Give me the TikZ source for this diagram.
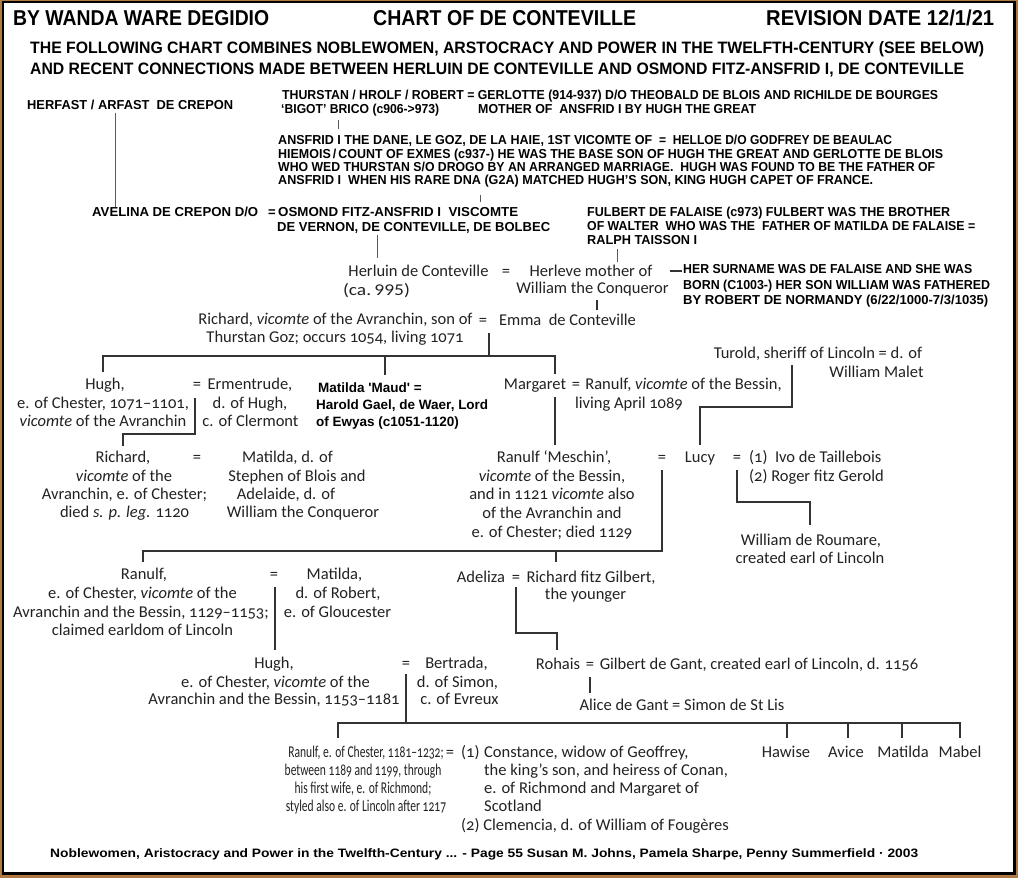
\documentclass[tikz,border=0pt]{standalone}
\usepackage{fontspec}
\usepackage{graphicx}
\setmainfont{Carlito}[Numbers=OldStyle]
\newfontfamily\arialf{Liberation Sans}
\newcommand\cf{\fontsize{16.5}{18}\selectfont}
\newcommand\wf{\arialf\bfseries\fontsize{13}{14}\selectfont}
\newcommand\mf{\arialf\bfseries\fontsize{13.5}{15}\selectfont}
\newcommand\hf{\arialf\bfseries\fontsize{21.5}{22}\selectfont}
\newcommand\lf{\arialf\bfseries\fontsize{16.5}{17}\selectfont}
\newcommand\ftf{\arialf\bfseries\fontsize{12.2}{14}\selectfont}
\definecolor{ink}{HTML}{222222}
\definecolor{lnc}{HTML}{333333}
\definecolor{framebrown}{HTML}{B07A45}
\tikzset{
  ct/.style={inner sep=0pt, anchor=base, font=\cf, text=ink},
  wt/.style={inner sep=0pt, anchor=base west, font=\wf, text=black},
  ln/.style={draw=lnc, line width=1.1pt},
  lnb/.style={draw=black!65, line width=1pt}
}
\newcommand\mkC[4]{\node[ct] (#1) at (#2,{#3+5}) {#4};}
\newcommand\mkL[4]{\node[ct,anchor=base west] (#1) at (#2,{#3+5}) {#4};}
\newcommand\mkW[4]{\node[wt] (#1) at (#2,{#3+4.7}) {#4};}
\newcommand\mkF[5]{\node[wt] (#1) at (#2,{#3+4.7}) {\resizebox{#4pt}{\height}{#5}};}
\newcommand\mkS[4]{\node[ct] (#1) at (#2,{#3+5}) {\scalebox{0.7}[1]{#4}};}
\begin{document}
\begin{tikzpicture}[x=1pt,y=-1pt]
\useasboundingbox (0,0) rectangle (1018,878);
% frame
\fill[framebrown] (0,0) rectangle (1018,878);
\fill[black] (2,0.5) rectangle (1016,875);
\fill[white] (4,2.5) rectangle (1013,872);

% header
\node[wt,font=\hf] (h1) at (13,25.5) {\resizebox{256pt}{\height}{BY WANDA WARE DEGIDIO}};
\node[wt,font=\hf] (h2) at (373,25.5) {\resizebox{263pt}{\height}{CHART OF DE CONTEVILLE}};
\node[wt,font=\hf] (h3) at (766,25.5) {\resizebox{228pt}{\height}{REVISION DATE 12/1/21}};
\node[wt,font=\lf] (l2) at (30,53) {\resizebox{954pt}{\height}{THE FOLLOWING CHART COMBINES NOBLEWOMEN, ARSTOCRACY AND POWER IN THE TWELFTH-CENTURY (SEE BELOW)}};
\node[wt,font=\lf] (l3) at (30,74) {\resizebox{934pt}{\height}{AND RECENT CONNECTIONS MADE BETWEEN HERLUIN DE CONTEVILLE AND OSMOND FITZ-ANSFRID I, DE CONTEVILLE}};

% Wanda additions
\mkF{herfast}{27}{105}{206}{HERFAST / ARFAST\ \ DE CREPON}
\mkF{thurstan}{282}{95}{656}{THURSTAN / HROLF / ROBERT = GERLOTTE (914-937) D/O THEOBALD DE BLOIS AND RICHILDE DE BOURGES}
\mkF{bigot}{281}{109}{158}{‘BIGOT’ BRICO (c906->973)}
\mkF{mother}{478}{109}{278}{MOTHER OF\ \ ANSFRID I BY HUGH THE GREAT}
\mkF{ansfrid}{278}{140}{374}{ANSFRID I THE DANE, LE GOZ, DE LA HAIE, 1ST VICOMTE OF}
\mkF{helloe}{659}{140}{233}{=\ \ HELLOE D/O GODFREY DE BEAULAC}
\mkF{hiemois}{278}{154}{665}{HIEMOIS\,/\,COUNT OF EXMES (c937-) HE WAS THE BASE SON OF HUGH THE GREAT AND GERLOTTE DE BLOIS}
\mkF{whowed}{278}{167}{657}{WHO WED THURSTAN S/O DROGO BY AN ARRANGED MARRIAGE.\ \ HUGH WAS FOUND TO BE THE FATHER OF}
\mkF{dna}{278}{180}{595}{ANSFRID I\ \ WHEN HIS RARE DNA (G2A) MATCHED HUGH’S SON, KING HUGH CAPET OF FRANCE.}
\mkF{avelina}{92}{212}{166}{AVELINA DE CREPON D/O}
\mkW{aveq}{268}{212}{=}
\mkF{osmond}{278}{212}{240}{OSMOND FITZ-ANSFRID I\ \ VISCOMTE}
\mkF{vernon}{277}{227}{273}{DE VERNON, DE CONTEVILLE, DE BOLBEC}
\mkF{fulbert}{587}{212}{363}{FULBERT DE FALAISE (c973) FULBERT WAS THE BROTHER}
\mkF{walter}{587}{226}{388}{OF WALTER\ \ WHO WAS THE\ \ FATHER OF MATILDA DE FALAISE =}
\mkF{ralph}{587}{240}{110}{RALPH TAISSON I}
\mkF{surname}{683}{269}{289}{HER SURNAME WAS DE FALAISE AND SHE WAS}
\mkF{born}{683}{285}{307}{BORN (C1003-) HER SON WILLIAM WAS FATHERED}
\mkF{robert}{683}{300}{305}{BY ROBERT DE NORMANDY (6/22/1000-7/3/1035)}

% Herluin generation
\mkC{herluin}{418.5}{271}{Herluin de Conteville}
\mkC{heq}{506}{271}{=}
\mkC{herleve}{591}{271}{Herleve mother of}
\mkC{ca}{376.5}{290}{\resizebox{67pt}{\height}{\addfontfeatures{Numbers=Lining}(ca.\,995)}}
\mkC{william}{592.5}{288}{William the Conqueror}

% Richard / Emma
\mkC{richard}{335.5}{319}{Richard, \textit{vicomte} of the Avranchin, son of}
\mkC{emeq}{483}{320}{=}
\mkC{emma}{567.5}{320}{Emma\ \ de Conteville}
\mkC{goz}{335}{337}{Thurstan Goz; occurs 1054, living 1071}

% Hugh / Ermentrude
\mkC{hugh1}{105}{384}{Hugh,}
\mkC{hugh2}{103}{403}{e. of Chester, 1071–1101,}
\mkC{hugh3}{103}{421}{\textit{vicomte} of the Avranchin}
\mkC{hugheq}{197}{384}{=}
\mkC{erm1}{250}{384}{Ermentrude,}
\mkC{erm2}{250}{403}{d. of Hugh,}
\mkC{erm3}{250.5}{421}{c. of Clermont}
\node[wt,font=\mf] (maud1) at (318,392) {Matilda \textquotesingle Maud\textquotesingle\ =};
\node[wt,font=\mf] (maud2) at (316,409) {Harold Gael, de Waer, Lord};
\node[wt,font=\mf] (maud3) at (316,426) {of Ewyas (c1051-1120)};

% Margaret / Ranulf
\mkC{marg}{535}{384}{Margaret}
\mkC{margeq}{576}{384}{=}
\mkC{ranv1}{683.5}{384}{Ranulf, \textit{vicomte} of the Bessin,}
\mkC{ranv2}{629}{403}{living April 1089}
\mkC{turold}{818}{353}{Turold, sheriff of Lincoln = d. of}
\mkC{malet}{876.5}{372}{William Malet}

% Richard / Matilda
\mkC{ric1}{123}{457}{Richard,}
\mkC{ric2}{124}{476}{\textit{vicomte} of the}
\mkC{ric3}{124.5}{494}{Avranchin, e. of Chester;}
\mkC{ric4}{124.5}{512}{died \textit{s. p. leg.} 1120}
\mkC{riceq}{197}{457}{=}
\mkC{mat1}{287.5}{457}{Matilda, d. of}
\mkC{mat2}{297}{476}{Stephen of Blois and}
\mkC{mat3}{286}{494}{Adelaide, d. of}
\mkC{mat4}{303}{512}{William the Conqueror}

% Ranulf Meschin / Lucy
\mkC{rm1}{554}{457}{Ranulf ‘Meschin’,}
\mkC{rm2}{552}{476}{\textit{vicomte} of the Bessin,}
\mkC{rm3}{552}{494.5}{and in 1121 \textit{vicomte} also}
\mkC{rm4}{552}{513}{of the Avranchin and}
\mkC{rm5}{552}{532}{e. of Chester; died 1129}
\mkC{rmeq}{662}{457}{=}
\mkC{lucy}{700}{457}{Lucy}
\mkC{lucyeq}{737}{457}{=}
\mkL{ivo}{749}{457}{(1)\ \ Ivo de Taillebois}
\mkL{roger}{749}{476}{(2)\ Roger fitz Gerold}
\mkC{roum1}{811}{540}{William de Roumare,}
\mkC{roum2}{810}{558}{created earl of Lincoln}

% Ranulf / Matilda of Gloucester
\mkC{ra1}{144}{574}{Ranulf,}
\mkC{ra2}{142.5}{593}{e. of Chester, \textit{vicomte} of the}
\mkC{ra3}{141}{612}{Avranchin and the Bessin, 1129–1153;}
\mkC{ra4}{142.5}{630}{claimed earldom of Lincoln}
\mkC{raeq}{274}{574}{=}
\mkC{mg1}{334.5}{574}{Matilda,}
\mkC{mg2}{338}{593}{d. of Robert,}
\mkC{mg3}{337.5}{612}{e. of Gloucester}

% Adeliza
\mkC{adel}{481}{577}{Adeliza}
\mkC{adeleq}{516}{577}{=}
\mkC{rfg1}{591}{577}{Richard fitz Gilbert,}
\mkC{rfg2}{585.5}{594}{the younger}
\mkC{rohais}{558}{664}{Rohais}
\mkC{roheq}{590}{664}{=}
\mkC{gilbert}{759}{664}{Gilbert de Gant, created earl of Lincoln, d. 1156}
\mkC{alice}{682}{705}{Alice de Gant = Simon de St Lis}

% Hugh / Bertrada
\mkC{hb1}{274}{663}{Hugh,}
\mkC{hb2}{275.5}{682}{e. of Chester, \textit{vicomte} of the}
\mkC{hb3}{274}{699}{Avranchin and the Bessin, 1153–1181}
\mkC{hbeq}{406}{663}{=}
\mkC{bert1}{456.5}{663}{Bertrada,}
\mkC{bert2}{457.5}{682}{d. of Simon,}
\mkC{bert3}{459.5}{699}{c. of Evreux}

% last generation
\mkS{rl1}{366}{752}{Ranulf, e. of Chester, 1181–1232;}
\mkS{rl2}{363}{770}{between 1189 and 1199, through}
\mkS{rl3}{363}{788}{his first wife, e. of Richmond;}
\mkS{rl4}{366}{806}{styled also e. of Lincoln after 1217}
\mkC{rleq}{450}{752}{=}
\mkL{con0}{461}{752}{(1)}
\mkL{con1}{484}{752}{Constance, widow of Geoffrey,}
\mkL{con2}{484}{770}{the king’s son, and heiress of Conan,}
\mkL{con3}{484}{788}{e. of Richmond and Margaret of}
\mkL{con4}{484}{806}{Scotland}
\mkL{clem}{461}{825}{(2) Clemencia, d. of William of Fougères}
\mkC{hawise}{786}{752}{Hawise}
\mkC{avice}{846}{752}{Avice}
\mkC{matilda}{903}{752}{Matilda}
\mkC{mabel}{960}{752}{Mabel}

% footer
\node[wt,font=\ftf] (foot) at (50,857) {\resizebox{868pt}{\height}{Noblewomen, Aristocracy and Power in the Twelfth-Century ... - Page 55 Susan M. Johns, Pamela Sharpe, Penny Summerfield · 2003}};

% connectors
\draw[lnb] (115,113) -- (115,207);
\draw[lnb] (338,120) -- (338,129);
\draw[lnb] (480,195) -- (480,202);
\draw[lnb] (377,235) -- (377,258);
\draw[lnb] (617,249) -- (617,262);
\draw[ln] (670,271) -- (682,271);
\draw[ln] (597,300) -- (597,310);
\draw[ln] (489,333) -- (489,356);
\draw[ln] (103,372) -- (103,356) -- (555,356) -- (555,374);
\draw[ln] (385,356) -- (385,375);
\draw[ln] (195,398) -- (195,434) -- (123,434) -- (123,446);
\draw[ln] (555,397) -- (555,445);
\draw[ln] (792,365) -- (792,407) -- (700,407) -- (700,445);
\draw[ln] (662,470) -- (662,551) -- (143,551) -- (143,562);
\draw[ln] (556,551) -- (556,562);
\draw[ln] (737,470) -- (737,502) -- (810,502) -- (810,525);
\draw[ln] (275,587) -- (275,650);
\draw[ln] (516,587) -- (516,633) -- (557,633) -- (557,650);
\draw[ln] (590,677) -- (590,693);
\draw[ln] (406,674) -- (406,723);
\draw[ln] (338,738) -- (338,723) -- (960,723) -- (960,738);
\draw[ln] (787,723) -- (787,738);
\draw[ln] (848,723) -- (848,738);
\draw[ln] (902,723) -- (902,738);
\end{tikzpicture}
\end{document}
